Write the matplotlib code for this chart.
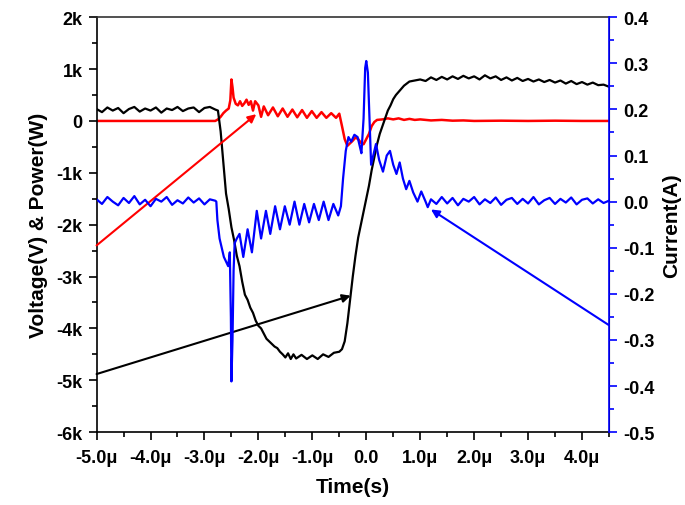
import numpy as np
import matplotlib.pyplot as plt
from matplotlib.ticker import MultipleLocator

plt.rcParams['font.family'] = ['Liberation Sans', 'DejaVu Sans']
plt.rcParams['font.weight'] = 'bold'

# Voltage (V), black, left axis; time in microseconds
volt_t = [-5.0, -4.9, -4.8, -4.7, -4.6, -4.5, -4.4, -4.3, -4.2, -4.1, -4.0, -3.9, -3.8, -3.7,
          -3.6, -3.5, -3.4, -3.3, -3.2, -3.1, -3.0, -2.9, -2.8,
          -2.75, -2.7, -2.65, -2.6, -2.55, -2.5, -2.45, -2.4, -2.35, -2.3, -2.25, -2.2, -2.15,
          -2.1, -2.05, -2.0, -1.95, -1.9, -1.85, -1.8, -1.75, -1.7, -1.65, -1.6, -1.55, -1.5,
          -1.45, -1.4, -1.35, -1.3, -1.2, -1.1, -1.0, -0.9, -0.8, -0.7, -0.6, -0.5, -0.45,
          -0.4, -0.35, -0.3, -0.25, -0.2, -0.15, -0.1, -0.05, 0.0, 0.05, 0.1, 0.15, 0.2, 0.25,
          0.3, 0.35, 0.4, 0.45, 0.5, 0.55, 0.6, 0.65, 0.7, 0.75, 0.8, 0.9,
          1.0, 1.1, 1.2, 1.3, 1.4, 1.5, 1.6, 1.7, 1.8, 1.9, 2.0, 2.1, 2.2, 2.3, 2.4, 2.5,
          2.6, 2.7, 2.8, 2.9, 3.0, 3.1, 3.2, 3.3, 3.4, 3.5, 3.6, 3.7, 3.8, 3.9, 4.0, 4.1,
          4.2, 4.3, 4.4, 4.5]
volt_v = [230, 170, 260, 200, 250, 150, 230, 270, 180, 240, 200, 260, 160, 240, 210, 270,
          190, 240, 260, 170, 250, 270, 220,
          200, -200, -800, -1400, -1700, -2050, -2300, -2600, -2800, -3100, -3350, -3450, -3600,
          -3700, -3850, -3950, -4000, -4100, -4200, -4250, -4300, -4350, -4380, -4450, -4500, -4560,
          -4480, -4590, -4500, -4580, -4510, -4590, -4520, -4590, -4500, -4550, -4470, -4450, -4400,
          -4250, -3900, -3450, -3000, -2600, -2250, -2000, -1750, -1500, -1250, -950, -700, -450, -250,
          -100, 50, 200, 300, 420, 500, 560, 620, 680, 720, 760, 780,
          800, 770, 840, 790, 850, 800, 860, 810, 870, 820, 860, 800, 880, 820, 860, 790,
          840, 780, 830, 770, 810, 760, 800, 750, 790, 740, 780, 720, 770, 710, 750, 700,
          740, 690, 700, 660]

# Power (W), red, left axis
power_t = [-5.0, -2.8, -2.75, -2.7, -2.65, -2.6, -2.55, -2.52, -2.5, -2.48, -2.46, -2.42, -2.38,
           -2.34, -2.3, -2.26, -2.22, -2.18, -2.14, -2.1, -2.06, -2.0, -1.95, -1.9, -1.82, -1.73,
           -1.64, -1.55, -1.46, -1.37, -1.28, -1.19, -1.10, -1.01, -0.92, -0.83, -0.74, -0.65,
           -0.56, -0.5, -0.45, -0.4, -0.35, -0.3, -0.25, -0.2, -0.15, -0.1, -0.05, 0.0, 0.05,
           0.1, 0.15, 0.2, 0.3, 0.4, 0.5, 0.6, 0.7, 0.8, 0.9, 1.0, 1.2, 1.4, 1.6, 1.8, 2.0,
           2.5, 3.0, 3.5, 4.0, 4.5]
power_v = [0, 0, 30, 80, 150, 200, 240, 400, 800, 650, 450, 330, 300, 380, 290, 340, 410, 310,
           380, 200, 380, 300, 80, 280, 110, 260, 90, 240, 80, 220, 70, 210, 60, 190, 60, 170, 60,
           150, 60, 140, -100, -350, -480, -430, -380, -320, -350, -420, -450, -350, -250,
           -100, -20, 20, 30, 50, 30, 50, 20, 40, 20, 30, 10, 20, 5, 10, 0, 5, 0, 5, 0, 0]

# Current (A), blue, right axis
curr_t = [-5.0, -4.9, -4.8, -4.7, -4.6, -4.5, -4.4, -4.3, -4.2, -4.1, -4.0, -3.9, -3.8, -3.7,
          -3.6, -3.5, -3.4, -3.3, -3.2, -3.1, -3.0, -2.9, -2.8,
          -2.78, -2.76, -2.72, -2.68, -2.64, -2.6, -2.56, -2.53, -2.51, -2.5, -2.48, -2.46,
          -2.44, -2.4, -2.35, -2.28, -2.2, -2.12, -2.03, -1.95, -1.86, -1.78, -1.69, -1.6,
          -1.51, -1.42, -1.33, -1.24, -1.15, -1.06, -0.97, -0.88, -0.79, -0.7, -0.61, -0.52,
          -0.47, -0.43, -0.38, -0.33, -0.28, -0.22, -0.16, -0.12, -0.09, -0.05, -0.02, 0.0,
          0.03, 0.06, 0.09, 0.13, 0.18, 0.24, 0.31, 0.38, 0.44, 0.5, 0.56, 0.62, 0.68, 0.74,
          0.8, 0.87, 0.95, 1.02, 1.1, 1.14, 1.2,
          1.3, 1.4, 1.5, 1.6, 1.7, 1.8, 1.9, 2.0, 2.1, 2.2, 2.3, 2.4, 2.5, 2.6, 2.7, 2.8,
          2.9, 3.0, 3.1, 3.2, 3.3, 3.4, 3.5, 3.6, 3.7, 3.8, 3.9, 4.0, 4.1, 4.2, 4.3, 4.4, 4.5]
curr_v = [0.005, -0.005, 0.01, 0.0, -0.008, 0.008, -0.003, 0.012, -0.006, 0.004, -0.01, 0.006,
          0.0, 0.01, -0.007, 0.003, -0.004, 0.009, -0.002, 0.007, -0.006, 0.005, 0.002,
          0.0, -0.04, -0.08, -0.10, -0.12, -0.13, -0.14, -0.11, -0.25, -0.39, -0.30, -0.15,
          -0.09, -0.08, -0.07, -0.12, -0.06, -0.11, -0.02, -0.08, -0.02, -0.07, -0.01, -0.06,
          -0.01, -0.05, 0.0, -0.05, -0.005, -0.045, -0.005, -0.04, 0.0, -0.04, -0.005, -0.03,
          -0.01, 0.05, 0.11, 0.14, 0.13, 0.145, 0.14, 0.12, 0.105, 0.18, 0.29, 0.305,
          0.28, 0.18, 0.08, 0.10, 0.125, 0.09, 0.065, 0.10, 0.11, 0.08, 0.06, 0.085, 0.05, 0.027,
          0.045, 0.02, 0.0, 0.022, 0.0, -0.012, 0.005,
          -0.005, 0.01, -0.004, 0.008, -0.008, 0.006, 0.0, 0.01, -0.006, 0.005, -0.003, 0.009,
          -0.007, 0.004, 0.008, -0.005, 0.006, -0.004, 0.01, -0.006, 0.003, 0.008, -0.005, 0.006,
          -0.002, 0.009, -0.006, 0.004, 0.007, -0.004, 0.005, -0.003, 0.002]

x_ticks = [-5, -4, -3, -2, -1, 0, 1, 2, 3, 4]
x_labels = ['-5.0μ', '-4.0μ', '-3.0μ', '-2.0μ', '-1.0μ', '0.0', '1.0μ', '2.0μ', '3.0μ', '4.0μ']
left_ticks = [-6000, -5000, -4000, -3000, -2000, -1000, 0, 1000, 2000]
left_labels = ['-6k', '-5k', '-4k', '-3k', '-2k', '-1k', '0', '1k', '2k']
right_ticks = [-0.5, -0.4, -0.3, -0.2, -0.1, 0.0, 0.1, 0.2, 0.3, 0.4]
right_labels = ['-0.5', '-0.4', '-0.3', '-0.2', '-0.1', '0.0', '0.1', '0.2', '0.3', '0.4']

blue = '#0000ff'
red = '#ff0000'

fig = plt.figure(figsize=(6.85, 5.06), dpi=100)
ax = fig.add_axes([0.141, 0.144, 0.748, 0.820])
ax2 = ax.twinx()

ax.plot(volt_t, volt_v, color='black', lw=1.6, zorder=3)
ax.plot(power_t, power_v, color=red, lw=1.8, zorder=2)
ax2.plot(curr_t, curr_v, color=blue, lw=1.6)

# annotation arrows
ax.annotate('', xy=(-2.04, 130), xytext=(-5.0, -2400), annotation_clip=False,
            arrowprops=dict(arrowstyle='-|>', color=red, lw=1.5, mutation_scale=12, shrinkA=0, shrinkB=0))
ax.annotate('', xy=(-0.29, -3370), xytext=(-5.0, -4880), annotation_clip=False,
            arrowprops=dict(arrowstyle='-|>', color='black', lw=1.5, mutation_scale=12, shrinkA=0, shrinkB=0))
ax2.annotate('', xy=(1.2, -0.017), xytext=(4.5, -0.268), annotation_clip=False,
             arrowprops=dict(arrowstyle='-|>', color=blue, lw=1.5, mutation_scale=12, shrinkA=0, shrinkB=0))

ax.set_xlim(-5, 4.5)
ax.set_ylim(-6000, 2000)
ax2.set_ylim(-0.5, 0.4)

ax.set_xticks(x_ticks)
ax.set_xticklabels(x_labels)
ax.set_yticks(left_ticks)
ax.set_yticklabels(left_labels)
ax2.set_yticks(right_ticks)
ax2.set_yticklabels(right_labels)
ax.xaxis.set_minor_locator(MultipleLocator(0.5))
ax.yaxis.set_minor_locator(MultipleLocator(500))
ax2.yaxis.set_minor_locator(MultipleLocator(0.05))

ax.tick_params(which='major', direction='out', length=6, width=1.2, labelsize=13, pad=4)
ax.tick_params(which='minor', direction='out', length=3.5, width=1.2)
ax2.tick_params(which='major', direction='out', length=6, width=1.2, labelsize=13, pad=4,
                color=blue, labelcolor='black')
ax2.tick_params(which='minor', direction='out', length=3.5, width=1.2, color=blue)
ax.tick_params(axis='x', pad=6)

for s in ['left', 'bottom', 'top']:
    ax.spines[s].set_linewidth(1.2)
ax.spines['top'].set_color('#333333')
ax2.spines['right'].set_color(blue)
ax2.spines['right'].set_linewidth(1.2)
ax2.spines['left'].set_visible(False)
ax2.spines['top'].set_visible(False)
ax2.spines['bottom'].set_visible(False)

ax.set_xlabel('Time(s)', fontsize=15, fontweight='bold', labelpad=8)
ax.set_ylabel('Voltage(V) & Power(W)', fontsize=15, fontweight='bold', labelpad=6)
ax2.set_ylabel('Current(A)', fontsize=15, fontweight='bold', labelpad=6)

fig.savefig('out.png', dpi=100)
